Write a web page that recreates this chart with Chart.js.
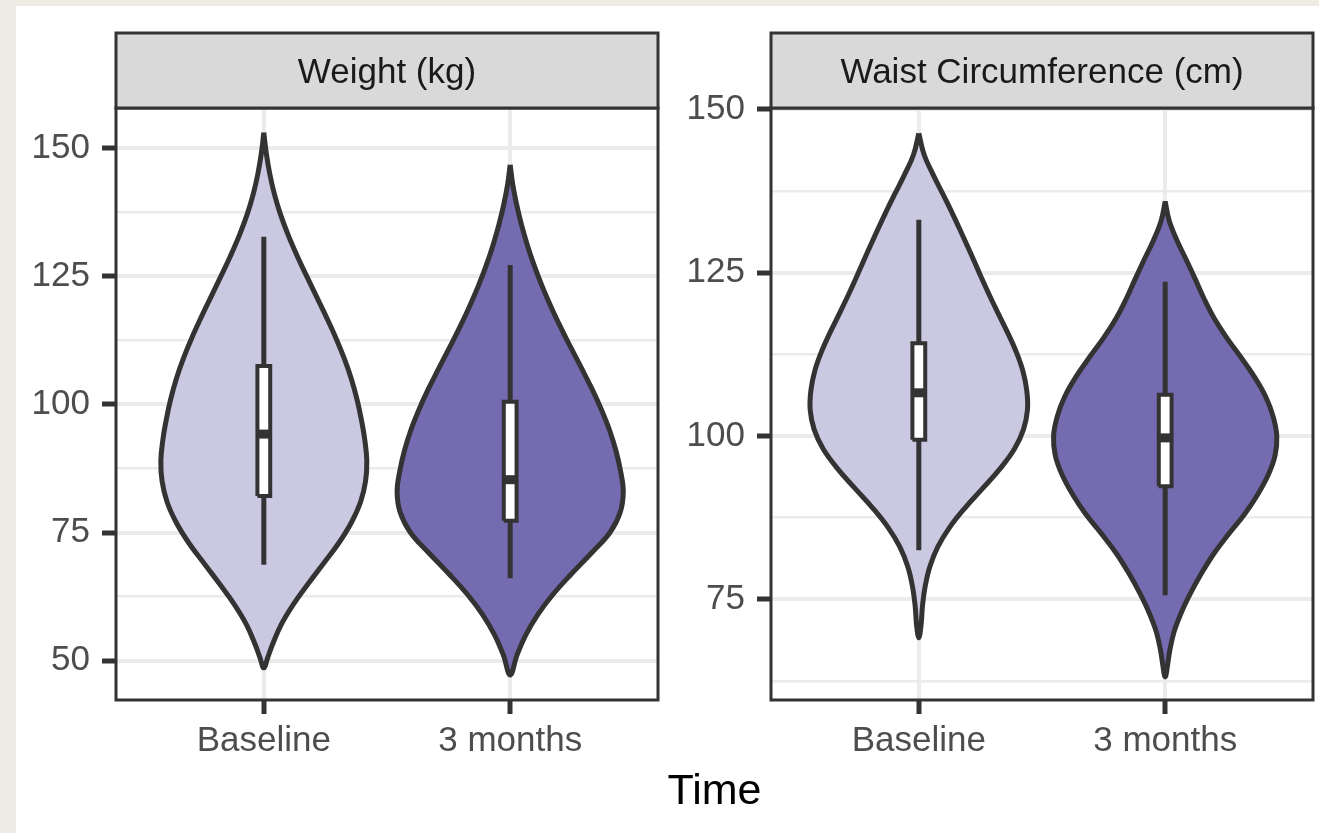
<!DOCTYPE html>
<html>
<head>
<meta charset="utf-8">
<title>Weight and waist violins</title>
<script src="https://cdn.jsdelivr.net/npm/chart.js@4/dist/chart.umd.min.js"></script>
<style>
    body { margin: 0; background: #eeebe4; width: 1319px; height: 833px; overflow: hidden; position: relative; font-family: "Liberation Sans", Arial, Helvetica, sans-serif; }
    #sheet { position: absolute; left: 16px; top: 6px; right: 0; bottom: 0; background: #ffffff; }
    canvas { position: absolute; top: 0; }
    #weightChart { left: 0; }
    #waistChart { left: 664px; }
    #xTitle { position: absolute; left: 614px; width: 201px; top: 765px; height: 48px; line-height: 48px; text-align: center; font-size: 43px; color: #000; }
</style>
</head>
<body>
<div id="sheet"></div>
<canvas id="weightChart" width="664" height="833"></canvas>
<canvas id="waistChart" width="655" height="833"></canvas>
<div id="xTitle">Time</div>
<script>
// categories and panels
const categories = ["Baseline", "3 months"];
const panelTitles = ["Weight (kg)", "Waist Circumference (cm)"];

// y tick values
const weightMajorTicks = [50, 75, 100, 125, 150];
const weightMinorTicks = [62.5, 87.5, 112.5, 137.5];
const waistMajorTicks = [75, 100, 125, 150];
const waistMinorTicks = [62.5, 87.5, 112.5, 137.5];

// violin outlines: y value (top to bottom) and half width (in category units)
const weightBaseY = [153, 149, 145, 141, 137, 133, 129, 125, 121, 117, 113, 109, 105, 101, 97, 93, 89, 85, 81, 77, 73, 69, 65, 61, 57, 53, 50.5, 48.6];
const weightBaseW = [0, 0.010, 0.024, 0.043, 0.068, 0.099, 0.135, 0.174, 0.214, 0.254, 0.292, 0.326, 0.355, 0.378, 0.396, 0.410, 0.418, 0.413, 0.393, 0.356, 0.305, 0.243, 0.180, 0.120, 0.070, 0.034, 0.015, 0];
const weight3mY = [146.7, 143, 139, 135, 131, 127, 123, 119, 115, 111, 107, 103, 99, 95, 91, 87, 83, 79, 75, 71, 67, 63, 59, 55, 51, 47.2];
const weight3mW = [0, 0.010, 0.026, 0.046, 0.070, 0.098, 0.130, 0.166, 0.205, 0.247, 0.290, 0.332, 0.370, 0.403, 0.429, 0.448, 0.459, 0.447, 0.405, 0.330, 0.250, 0.175, 0.112, 0.063, 0.027, 0];
const waistBaseY = [146.3, 143, 140, 137, 134, 131, 128, 125, 122, 119, 116, 113, 110, 107, 104, 101, 98, 95, 92, 89, 86, 83, 80, 77, 74, 71, 69.1];
const waistBaseW = [0, 0.022, 0.058, 0.098, 0.137, 0.174, 0.210, 0.245, 0.281, 0.319, 0.358, 0.394, 0.422, 0.438, 0.441, 0.425, 0.388, 0.330, 0.260, 0.188, 0.125, 0.077, 0.045, 0.026, 0.015, 0.009, 0];
const waist3mY = [135.9, 133, 130, 127, 124, 121, 118, 115, 112, 109, 106, 103, 100, 97, 94, 91, 88, 85, 82, 79, 76, 73, 70, 67, 65, 63.1];
const waist3mW = [0, 0.016, 0.047, 0.085, 0.122, 0.158, 0.199, 0.250, 0.308, 0.363, 0.408, 0.438, 0.453, 0.446, 0.418, 0.375, 0.322, 0.258, 0.198, 0.148, 0.104, 0.066, 0.036, 0.018, 0.010, 0];

// box stats: [whisker low, q1, median, q3, whisker high]
const weightBaseBox = [68.7, 82.1, 94.2, 107.5, 132.7];
const weight3mBox = [66.1, 77.3, 85.3, 100.5, 127.2];
const waistBaseBox = [82.5, 99.4, 106.6, 114.2, 133.1];
const waist3mBox = [75.6, 92.3, 99.7, 106.3, 123.6];

const fillColors = ["#cbc9e2", "#756bb1"];
const dark = "#333333";
const fontFamily = '"Liberation Sans", Arial, Helvetica, sans-serif';
const boxHalf = 0.026;

Chart.defaults.font.family = fontFamily;

// outline of one violin: down the left side, back up the right side
function violinPoints(cx, ys, ws) {
    const pts = [];
    for (let i = 0; i < ys.length; i++) pts.push({ x: cx - ws[i], y: ys[i] });
    for (let i = ys.length - 2; i >= 0; i--) pts.push({ x: cx + ws[i], y: ys[i] });
    return pts;
}

function violinDatasets(cx, ys, ws, box, color) {
    const [lo, q1, med, q3, hi] = box;
    return [
        {
            data: violinPoints(cx, ys, ws),
            fill: "shape",
            backgroundColor: color,
            borderColor: dark,
            borderWidth: 5,
            tension: 0.4,
            order: 4
        },
        {
            data: [{ x: cx, y: lo }, { x: cx, y: hi }],
            fill: false,
            borderColor: dark,
            borderWidth: 5,
            borderCapStyle: "butt",
            order: 3
        },
        {
            data: [
                { x: cx - boxHalf, y: q1 }, { x: cx + boxHalf, y: q1 },
                { x: cx + boxHalf, y: q3 }, { x: cx - boxHalf, y: q3 },
                { x: cx - boxHalf, y: q1 }
            ],
            fill: "shape",
            backgroundColor: "#ffffff",
            borderColor: dark,
            borderWidth: 4,
            borderJoinStyle: "miter",
            tension: 0,
            order: 2
        },
        {
            data: [{ x: cx - boxHalf, y: med }, { x: cx + boxHalf, y: med }],
            fill: false,
            borderColor: dark,
            borderWidth: 9,
            borderCapStyle: "butt",
            order: 1
        }
    ];
}

// panel border and grey facet strip
const stripPlugin = {
    id: "strip",
    afterDraw(chart, args, opts) {
        const { ctx, chartArea } = chart;
        const top = 33;
        const w = chartArea.right - chartArea.left;
        ctx.save();
        ctx.strokeStyle = dark;
        ctx.lineWidth = 3;
        ctx.strokeRect(chartArea.left, chartArea.top, w, chartArea.bottom - chartArea.top);
        ctx.fillStyle = "#d9d9d9";
        ctx.fillRect(chartArea.left, top, w, chartArea.top - top);
        ctx.strokeRect(chartArea.left, top, w, chartArea.top - top);
        ctx.fillStyle = "#1a1a1a";
        ctx.font = "35px " + fontFamily;
        ctx.textAlign = "center";
        ctx.textBaseline = "alphabetic";
        ctx.fillText(opts.text, chartArea.left + w / 2, top + 50);
        ctx.restore();
    }
};

function makePanel(canvasId, title, yMin, yMax, major, minor, yAxisWidth, datasets) {
    const allTicks = major.concat(minor).sort((a, b) => a - b);
    const isMajor = v => major.includes(v);
    return new Chart(document.getElementById(canvasId), {
        type: "line",
        data: { datasets: datasets },
        plugins: [stripPlugin],
        options: {
            responsive: false,
            animation: false,
            events: [],
            elements: { point: { radius: 0 } },
            layout: { padding: { left: 0, right: 6, top: 108, bottom: 0 } },
            plugins: {
                legend: { display: false },
                tooltip: { enabled: false },
                strip: { text: title }
            },
            scales: {
                x: {
                    type: "linear",
                    min: 0.4,
                    max: 2.6,
                    afterBuildTicks: s => { s.ticks = categories.map((c, i) => ({ value: i + 1 })); },
                    afterFit: s => { s.height = 133; },
                    border: { display: false },
                    grid: { color: "#ebebeb", lineWidth: 4, tickColor: dark, tickWidth: 5, tickLength: 14 },
                    ticks: {
                        autoSkip: false,
                        maxRotation: 0,
                        padding: 6,
                        color: "#4d4d4d",
                        font: { size: 35 },
                        callback: (v, i) => categories[i]
                    }
                },
                y: {
                    type: "linear",
                    min: yMin,
                    max: yMax,
                    afterBuildTicks: s => { s.ticks = allTicks.map(v => ({ value: v })); },
                    afterFit: s => { s.width = yAxisWidth; },
                    border: { display: false },
                    grid: {
                        color: "#ebebeb",
                        lineWidth: c => (c.tick && isMajor(c.tick.value)) ? 4 : 2.5,
                        tickColor: c => (c.tick && isMajor(c.tick.value)) ? dark : "rgba(0,0,0,0)",
                        tickWidth: 5,
                        tickLength: 14
                    },
                    ticks: {
                        autoSkip: false,
                        padding: 12,
                        color: "#4d4d4d",
                        font: { size: 35 },
                        callback: v => isMajor(v) ? String(v) : ""
                    }
                }
            }
        }
    });
}

makePanel("weightChart", panelTitles[0], 42.33, 157.8, weightMajorTicks, weightMinorTicks, 116,
    violinDatasets(1, weightBaseY, weightBaseW, weightBaseBox, fillColors[0])
        .concat(violinDatasets(2, weight3mY, weight3mW, weight3mBox, fillColors[1])));

makePanel("waistChart", panelTitles[1], 59.57, 150.2, waistMajorTicks, waistMinorTicks, 107,
    violinDatasets(1, waistBaseY, waistBaseW, waistBaseBox, fillColors[0])
        .concat(violinDatasets(2, waist3mY, waist3mW, waist3mBox, fillColors[1])));
</script>
</body>
</html>
